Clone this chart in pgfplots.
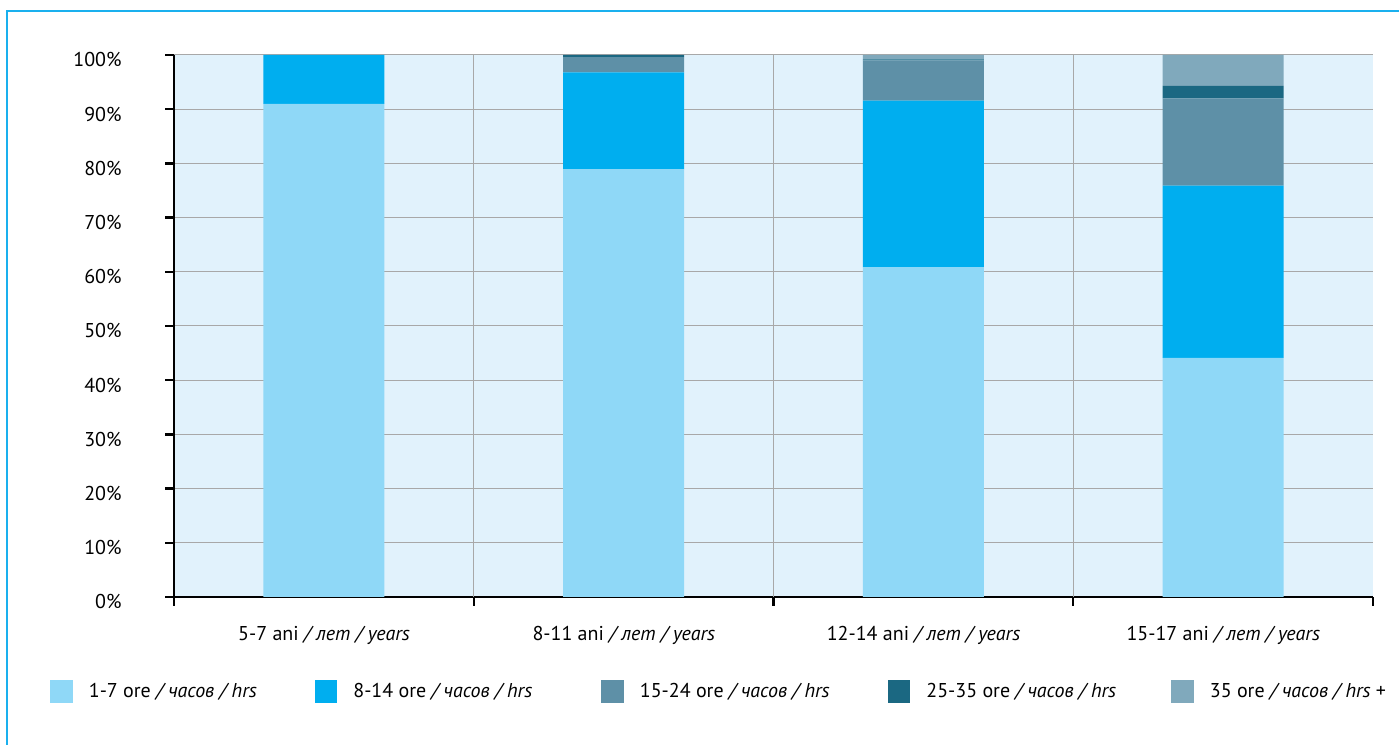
\documentclass[border=0pt]{standalone}
\usepackage{pgfplots}
\pgfplotsset{compat=1.18}
\usepackage{fontspec}
\setmainfont{PT Sans}
\definecolor{cA}{HTML}{8FD8F7}
\definecolor{cB}{HTML}{00AEEF}
\definecolor{cC}{HTML}{5E90A7}
\definecolor{cD}{HTML}{1B6882}
\definecolor{cE}{HTML}{80A9BC}
\definecolor{bgc}{HTML}{E1F2FC}
\definecolor{gridc}{HTML}{A8A8A8}
\definecolor{framec}{HTML}{1AB0EE}
\pgfplotsset{
  layers/mylayers/.define layer set={axis background,axis grid,main,axis ticks,axis lines,axis tick labels,axis descriptions,axis foreground}{},
  mybar/.style={fill=#1, draw=none,
    legend image code/.code={\fill[##1] (0bp,-5.75bp) rectangle (11.25bp,5.75bp); \path (19.25bp,0bp);}},
}
\begin{document}
\fontsize{10bp}{12bp}\selectfont
\begin{tikzpicture}
\draw[framec, line width=0.9bp] (3.6bp,-20bp) -- (3.6bp,367bp) -- (720bp,367bp);
\begin{axis}[
  set layers=mylayers,
  at={(87bp,74bp)}, anchor=south west,
  scale only axis, width=599.5bp, height=271bp,
  xmin=-0.5, xmax=3.5, ymin=0, ymax=100,
  axis lines=left, axis line style={-, line width=1.2bp, black},
  axis background/.style={fill=bgc},
  ybar stacked, bar width=0.403,
  tick align=outside, major tick length=4.5bp,
  tick style={black, line width=1.2bp},
  xtick={-0.5,0.5,1.5,2.5,3.5},
  xticklabels={5-7 ani \textit{/ лет / years},8-11 ani \textit{/ лет / years},12-14 ani \textit{/ лет / years},15-17 ani \textit{/ лет / years},{}},
  xticklabel style={anchor=base, inner sep=0pt, xshift=75bp, yshift=-17bp},
  extra x ticks={0.5,1.5,2.5},
  extra x tick labels={},
  extra x tick style={grid=major},
  ytick={0,10,...,100},
  yticklabels={0\%,10\%,20\%,30\%,40\%,50\%,60\%,70\%,80\%,90\%,100\%},
  yticklabel style={anchor=base east, inner sep=0pt, xshift=-21.5bp, yshift=-6bp},
  ymajorgrids,
  grid style={line width=0.5bp, gridc},
  legend columns=5,
  legend style={at={(-0.10342,-0.17435)}, anchor=west, draw=none, fill=none,
    inner sep=0pt, column sep=0pt, row sep=0pt, cells={anchor=west}, nodes={inner sep=0pt}},
]
\addplot[mybar=cA] coordinates {(0,91) (1,78.9) (2,60.8) (3,44.1)};
\addlegendentry{\makebox[113bp][l]{1-7 ore \textit{/ часов / hrs}}}
\addplot[mybar=cB] coordinates {(0,9) (1,17.9) (2,30.8) (3,31.8)};
\addlegendentry{\makebox[124bp][l]{8-14 ore \textit{/ часов / hrs}}}
\addplot[mybar=cC] coordinates {(0,0) (1,2.8) (2,7.4) (3,16.1)};
\addlegendentry{\makebox[124bp][l]{15-24 ore \textit{/ часов / hrs}}}
\addplot[mybar=cD] coordinates {(0,0) (1,0.4) (2,0.2) (3,2.3)};
\addlegendentry{\makebox[122.5bp][l]{25-35 ore \textit{/ часов / hrs}}}
\addplot[mybar=cE] coordinates {(0,0) (1,0) (2,0.8) (3,5.7)};
\addlegendentry{35 ore \textit{/ часов / hrs} +}
\end{axis}
\pgfresetboundingbox
\useasboundingbox (0,0) rectangle (699.5bp,372.5bp);
\end{tikzpicture}
\end{document}
